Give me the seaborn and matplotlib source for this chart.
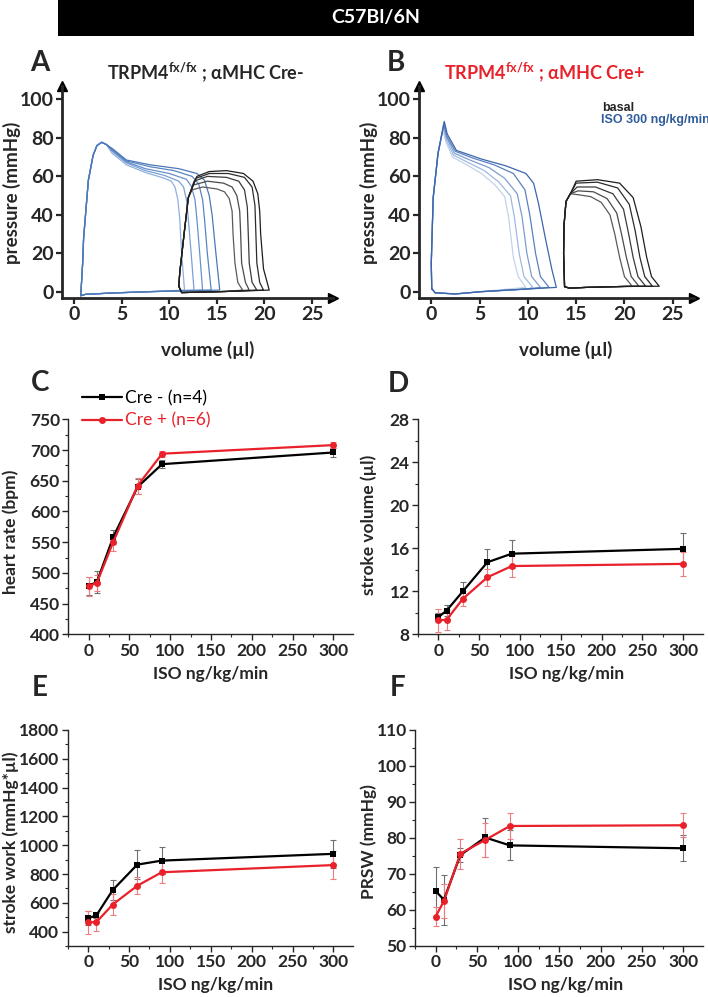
import matplotlib
matplotlib.use('Agg')
import matplotlib.pyplot as plt
from matplotlib.lines import Line2D
from matplotlib.patches import Rectangle
from matplotlib.ticker import MultipleLocator
import seaborn as sns
import pandas as pd

sns.set_style('ticks')
plt.rcParams['font.family'] = ['Lato', 'DejaVu Sans']
plt.rcParams['mathtext.fontset'] = 'custom'
plt.rcParams['mathtext.rm'] = 'Lato'
plt.rcParams['mathtext.bf'] = 'Lato:bold'

RED = '#e8212a'
BLUE_TXT = '#2f5d9c'

# ---- PV loops (volume ul, pressure mmHg) ----
# panel A, ISO 300 (blue): shared rise, per-loop top/right, shared bottom
a_iso_rise = [(0.7, -1.9), (0.9, 15), (1.0, 28), (1.5, 58), (2.0, 71), (2.4, 76), (2.9, 77.7), (3.4, 76.5)]
a_iso_loops = [
    [(4.0, 72), (5.5, 66), (7.5, 62), (9.5, 59), (10.2, 57.5), (10.6, 54.5), (10.9, 48), (11.1, 38), (11.3, 20), (11.6, 1)],
    [(4.0, 73), (5.5, 67), (7.5, 63), (9.5, 60.5), (11.0, 57.5), (11.5, 54.5), (11.8, 48), (12.0, 38), (12.3, 20), (12.6, 1)],
    [(4.0, 73.5), (5.5, 67.5), (7.5, 64), (10, 61.5), (11.8, 58.5), (12.3, 55), (12.7, 48), (12.9, 38), (13.2, 20), (13.5, 1)],
    [(4.0, 74), (5.5, 68), (8, 65), (10.5, 63), (12.4, 60), (13.1, 56), (13.5, 48), (13.7, 38), (14.0, 20), (14.4, 1)],
    [(4.0, 74.5), (5.5, 68.5), (8, 66), (11, 64), (12.9, 61.5), (13.7, 58), (14.2, 50), (14.5, 40), (14.9, 20), (15.3, 1)],
]
a_iso_bottom = [(8, 0.2), (4, -0.5), (1.2, -1.2)]

# panel A, basal (black)
a_bas_rise = [(11.0, 3), (11.1, 10), (11.6, 32), (12.0, 49)]
a_bas_loops = [
    [(12.4, 53), (13.5, 54.5), (15.0, 53.5), (15.8, 52), (16.3, 48.5), (16.6, 42), (16.7, 30), (16.9, 15), (17.2, 5), (17.7, 1)],
    [(12.5, 55.5), (14.0, 57.5), (15.7, 56.5), (16.6, 54.5), (17.1, 50), (17.4, 42), (17.5, 30), (17.6, 15), (18.0, 5), (18.4, 1)],
    [(12.6, 57.5), (14.0, 60), (16, 59.5), (17.3, 57.5), (17.9, 53), (18.2, 44), (18.3, 30), (18.4, 15), (18.7, 5), (19.2, 1)],
    [(12.8, 59), (14.2, 61.5), (16.2, 61.5), (17.9, 59.5), (18.7, 54.5), (19.0, 45), (19.1, 30), (19.2, 15), (19.5, 5), (19.9, 1)],
    [(12.9, 60), (14.2, 62.5), (16.0, 63), (17.8, 61.5), (18.8, 57.5), (19.3, 51), (19.5, 42), (19.6, 30), (19.9, 12), (20.5, 1)],
]
a_bas_bottom = [(16, 0.3), (12, -0.2), (11.3, -0.3)]

# panel B, ISO 300 (blue)
b_iso_rise = [(0.05, 1.7), (0.0, 15), (0.2, 49), (0.7, 72)]
b_iso_loops = [
    [(1.2, 84), (1.5, 78), (2.2, 70), (3.5, 66.5), (5.2, 61.5), (6.6, 55.5), (7.6, 49.5), (8.0, 39), (8.5, 18), (9.0, 8), (9.8, 2.4)],
    [(1.25, 85.5), (1.55, 79), (2.3, 71), (3.7, 67.5), (5.5, 63), (7.0, 57), (8.2, 50), (8.6, 39), (9.1, 20), (9.6, 8), (10.5, 2.5)],
    [(1.3, 86.5), (1.6, 80), (2.4, 72), (4.0, 68.5), (6.0, 64.5), (7.6, 59), (8.9, 51), (9.4, 39), (9.9, 20), (10.4, 8), (11.3, 2.4)],
    [(1.3, 87.5), (1.6, 81), (2.5, 73), (4.3, 69.5), (6.5, 66), (8.5, 61.5), (9.7, 53), (10.2, 40), (10.8, 20), (11.3, 8), (12.2, 2.4)],
    [(1.35, 88.5), (1.65, 82), (2.6, 73.5), (5.2, 69), (7.7, 65.5), (9.8, 61.5), (10.6, 56.4), (11.1, 46), (11.85, 27), (12.5, 11.4), (12.95, 2.4)],
]
b_iso_bottom = [(10, 1.6), (5.2, 0.2), (2.5, -1), (0.4, -0.4)]

# panel B, basal (black)
b_bas_rise = [(13.8, 2.8), (13.7, 20), (13.75, 35), (13.95, 47), (14.4, 51)]
b_bas_loops = [
    [(15.2, 50.5), (16.5, 49.5), (17.6, 46.5), (18.5, 40), (19.0, 30), (19.5, 18), (20.0, 8), (20.8, 3)],
    [(15.2, 52.5), (16.8, 52), (18.2, 48.5), (19.2, 41), (19.7, 30), (20.2, 18), (20.7, 8), (21.5, 3)],
    [(15.1, 54.5), (17.0, 54.5), (18.8, 51), (19.9, 43), (20.4, 31), (20.9, 18), (21.4, 8), (22.2, 3)],
    [(15.0, 56.5), (17.2, 57), (19.3, 54), (20.5, 45.5), (21.1, 32), (21.6, 18), (22.1, 8), (22.9, 3)],
    [(15.0, 57.5), (17.2, 58.3), (19.5, 56.5), (20.9, 49), (21.7, 34), (22.3, 18), (22.8, 8), (23.6, 3)],
]
b_bas_bottom = [(20, 2.9), (16, 2.4), (14.3, 2.0)]

a_iso_colors = ['#8fb0dc', '#7aa0d4', '#6890c9', '#5a84c0', '#4d78b8']
b_iso_colors = ['#c2d3ec', '#9fb9e0', '#7d9dd0', '#5a80bf', '#3d66ab']
bas_colors = ['#5a5a5a', '#4a4a4a', '#3a3a3a', '#2c2c2c', '#1e1e1e']

# ---- dose response ----
iso = [0, 10, 30, 60, 90, 300]
hr_neg = [479, 485, 558, 640, 677, 696]
hr_neg_err = [15, 18, 11, 12, 6, 8]
hr_pos = [478, 484, 550, 642, 694, 708]
hr_pos_err = [15, 13, 14, 13, 5, 5]
sv_neg = [9.6, 10.2, 12.0, 14.7, 15.5, 15.95]
sv_neg_err = [0.4, 0.5, 0.85, 1.25, 1.3, 1.45]
sv_pos = [9.3, 9.35, 11.3, 13.3, 14.35, 14.55]
sv_pos_err = [1.05, 0.95, 0.7, 0.78, 1.0, 1.1]
sw_neg = [493, 512, 688, 865, 893, 940]
sw_neg_err = [50, 20, 68, 102, 93, 97]
sw_pos = [465, 465, 588, 718, 812, 862]
sw_pos_err = [80, 62, 70, 60, 75, 95]
prsw_neg = [65.2, 62.8, 75.2, 80.1, 77.9, 77.1]
prsw_neg_err = [6.8, 7.0, 2.0, 5.5, 4.2, 3.6]
prsw_pos = [58.1, 62.4, 75.6, 79.4, 83.3, 83.5]
prsw_pos_err = [2.7, 4.7, 4.2, 4.8, 3.7, 3.4]

W, H = 708, 997
fig = plt.figure(figsize=(W / 100, H / 100), dpi=100)


def px_axes(l, t, r, b):
    return fig.add_axes([l / W, 1 - b / H, (r - l) / W, (b - t) / H])


def loop_frame(rise, loops, bottom):
    rows = []
    for i, top in enumerate(loops):
        end_v = top[-1][0]
        pts = rise + top + [p for p in bottom if p[0] < end_v] + [rise[0]]
        for j, (v, p) in enumerate(pts):
            rows.append({'loop': i, 'order': j, 'V': v, 'P': p})
    return pd.DataFrame(rows)


def pv_panel(ax, groups):
    for rise, loops, bottom, cols in groups:
        df = loop_frame(rise, loops, bottom)
        sns.lineplot(data=df, x='V', y='P', hue='loop', palette=cols, estimator=None,
                     sort=False, legend=False, lw=0.9, ax=ax)
    ax.set_xlim(-1.27, 27.2)
    ax.set_ylim(-3.1, 106.9)
    ax.set_xticks([0, 5, 10, 15, 20, 25])
    ax.set_yticks([0, 20, 40, 60, 80, 100])
    ax.set_xlabel('')
    ax.set_ylabel('')
    for s in ['top', 'right']:
        ax.spines[s].set_visible(False)
    for s in ['left', 'bottom']:
        ax.spines[s].set_linewidth(2)
    ax.tick_params(width=1.6, length=4, pad=2, labelsize=14)
    for lab in ax.get_xticklabels() + ax.get_yticklabels():
        lab.set_fontweight('bold')
    ax.plot(1, 0, '>k', ms=7, transform=ax.transAxes, clip_on=False)
    ax.plot(0, 1, '^k', ms=7, transform=ax.transAxes, clip_on=False)


def dose_panel(ax, neg, neg_err, pos, pos_err, ylim, ystep, yminor):
    ax.errorbar(iso, neg, yerr=neg_err, fmt='none', ecolor='#707070', elinewidth=0.8,
                capsize=2.2, capthick=0.8, zorder=2)
    ax.errorbar(iso, pos, yerr=pos_err, fmt='none', ecolor='#ee7c80', elinewidth=0.8,
                capsize=2.2, capthick=0.8, zorder=2)
    df = pd.DataFrame({'iso': iso * 2, 'val': list(neg) + list(pos),
                       'grp': ['Cre -'] * len(iso) + ['Cre +'] * len(iso)})
    sns.lineplot(data=df, x='iso', y='val', hue='grp', style='grp',
                 palette={'Cre -': 'black', 'Cre +': RED},
                 markers={'Cre -': 's', 'Cre +': 'o'}, dashes=False,
                 markersize=5, markeredgewidth=0, lw=1.6, legend=False, ax=ax, zorder=3)
    ax.set_xlim(-25, 324)
    ax.set_xticks([0, 50, 100, 150, 200, 250, 300])
    ax.xaxis.set_minor_locator(MultipleLocator(25))
    ax.yaxis.set_major_locator(MultipleLocator(ystep))
    ax.yaxis.set_minor_locator(MultipleLocator(yminor))
    ax.set_ylim(*ylim)
    ax.set_xlabel('')
    ax.set_ylabel('')
    for s in ['top', 'right']:
        ax.spines[s].set_visible(False)
    for s in ['left', 'bottom']:
        ax.spines[s].set_linewidth(1)
    ax.tick_params(which='major', width=1, length=4, pad=2, labelsize=12.5)
    ax.tick_params(which='minor', width=0.8, length=2)
    for lab in ax.get_xticklabels() + ax.get_yticklabels():
        lab.set_fontweight('bold')


# header bar
fig.add_artist(Rectangle((58 / W, 1 - 36 / H), 636 / W, 36 / H, transform=fig.transFigure,
                         facecolor='black', edgecolor='none'))
fig.text(376 / W, 1 - 18 / H, 'C57Bl/6N', color='white', fontsize=14, fontweight='bold',
         ha='center', va='center')

axA = px_axes(62, 86, 333, 298)
pv_panel(axA, [(a_iso_rise, a_iso_loops, a_iso_bottom, a_iso_colors),
               (a_bas_rise, a_bas_loops, a_bas_bottom, bas_colors)])
axB = px_axes(419, 86, 694, 298)
pv_panel(axB, [(b_iso_rise, b_iso_loops, b_iso_bottom, b_iso_colors),
               (b_bas_rise, b_bas_loops, b_bas_bottom, bas_colors)])

axC = px_axes(68.3, 419.3, 353, 634.3)
dose_panel(axC, hr_neg, hr_neg_err, hr_pos, hr_pos_err, (400, 750), 50, 25)
axD = px_axes(418, 419.3, 702.7, 634.3)
dose_panel(axD, sv_neg, sv_neg_err, sv_pos, sv_pos_err, (8, 28), 4, 2)
axE = px_axes(67.7, 730, 353, 946)
dose_panel(axE, sw_neg, sw_neg_err, sw_pos, sw_pos_err, (300, 1800), 200, 100)
axE.set_yticks(range(400, 1801, 200))
for lab in axE.get_yticklabels():
    lab.set_fontweight('bold')
axF = px_axes(415, 730, 703, 945.7)
dose_panel(axF, prsw_neg, prsw_neg_err, prsw_pos, prsw_pos_err, (50, 110), 10, 5)

# titles and texts
fig.text(206 / W, 1 - 72 / H, r'TRPM4$^{\mathbf{fx/fx}}$ ; αMHC Cre-', fontsize=13,
         fontweight='bold', ha='center', va='center')
fig.text(545 / W, 1 - 72 / H, r'TRPM4$^{\mathbf{fx/fx}}$ ; αMHC Cre+', fontsize=13,
         fontweight='bold', color=RED, ha='center', va='center')
fig.text(602 / W, 1 - 108 / H, 'basal', fontsize=9, fontweight='bold',
         family=['Liberation Sans'], ha='left', va='center')
fig.text(601 / W, 1 - 120 / H, 'ISO 300 ng/kg/min', fontsize=9, fontweight='bold',
         family=['Liberation Sans'], color=BLUE_TXT, ha='left', va='center')

for letter, x, y in [('A', 40, 63), ('B', 396, 63), ('C', 40, 383), ('D', 398, 384),
                     ('E', 40, 688), ('F', 398, 688)]:
    fig.text(x / W, 1 - y / H, letter, fontsize=20, fontweight='bold', ha='center', va='center')

for text, x, y in [('volume (µl)', 208, 350), ('volume (µl)', 566, 350),
                   ('ISO ng/kg/min', 211, 674), ('ISO ng/kg/min', 567, 674),
                   ('ISO ng/kg/min', 216, 985), ('ISO ng/kg/min', 566, 985)]:
    fig.text(x / W, 1 - y / H, text, fontsize=13.5 if 'vol' in text else 12.5,
             fontweight='bold', ha='center', va='center')

for text, x, y in [('pressure (mmHg)', 12, 193), ('pressure (mmHg)', 369, 193),
                   ('heart rate (bpm)', 11, 532), ('stroke volume (µl)', 369, 525),
                   ('stroke work (mmHg*µl)', 11, 842), ('PRSW (mmHg)', 369, 842)]:
    fig.text(x / W, 1 - y / H, text, fontsize=13.5 if 'press' in text else 12.5,
             fontweight='bold', rotation=90, ha='center', va='center')

handles = [Line2D([], [], color='black', marker='s', ms=4, mew=0, lw=1.6),
           Line2D([], [], color=RED, marker='o', ms=5, mew=0, lw=1.6)]
fig.legend(handles, ['Cre - (n=4)', 'Cre + (n=6)'], loc='upper left',
           bbox_to_anchor=(82 / W, 1 - 390 / H), frameon=False, fontsize=12.5,
           handlelength=2.3, handletextpad=0.2, labelspacing=0.38, borderpad=0,
           borderaxespad=0, labelcolor=['black', RED])

fig.savefig('out.png', dpi=100)
